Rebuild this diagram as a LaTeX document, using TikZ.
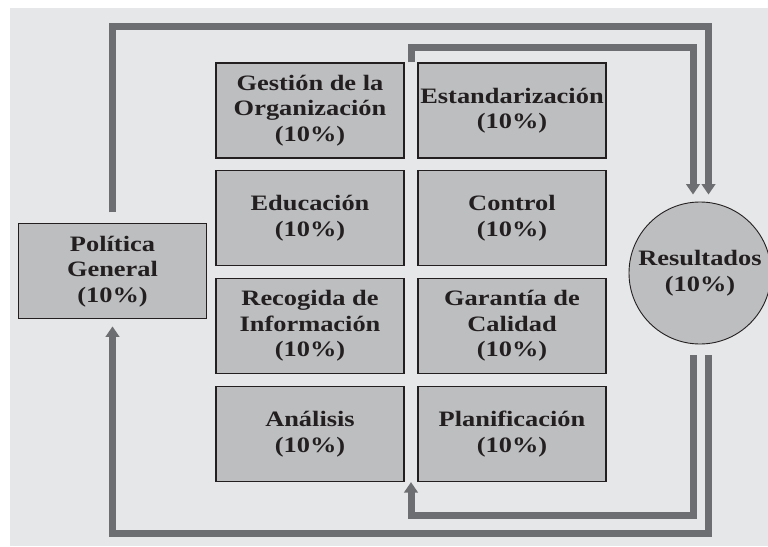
\documentclass[tikz,border=0pt]{standalone}
\usepackage{fontspec}
\newfontfamily\garfont[FakeStretch=1.2]{Liberation Serif}
\usetikzlibrary{arrows.meta,calc}
\definecolor{bgcol}{HTML}{E6E7E8}
\definecolor{boxfill}{HTML}{BCBEC0}
\definecolor{flowgray}{HTML}{6D6E71}
\definecolor{edgecol}{HTML}{231F20}
\definecolor{textcol}{HTML}{231F20}
\begin{document}
\begin{tikzpicture}[x=1pt,y=-1pt,
  area/.style={draw=edgecol,line width=1.2pt,fill=boxfill,minimum width=188pt,minimum height=95pt,inner sep=0pt,align=center,text=textcol,font=\garfont\fontsize{22}{25.5}\selectfont\bfseries},
  result/.style={area,circle,minimum size=142pt,line width=0.9pt},
  flow/.style={draw=flowgray,line width=7pt,line join=miter,line cap=butt},
  tipflow/.style={flow,-{Triangle[length=10.5pt,width=13.5pt]}}]
\clip (0,0) rectangle (768,546);
\fill[white] (0,0) rectangle (768,546);
\fill[bgcol] (10,8) rectangle (768,546);

\node[area] (g)  at (310,110.5) {Gestión de la\\Organización\\(10\%)};
\node[area] (e)  at (512,110.5) {Estandarización\\(10\%)};
\node[area] (ed) at (310,218.3) {Educación\\(10\%)};
\node[area] (c)  at (512,218.3) {Control\\(10\%)};
\node[area] (r)  at (310,326) {Recogida de\\Información\\(10\%)};
\node[area] (ga) at (512,326) {Garantía de\\Calidad\\(10\%)};
\node[area] (an) at (310,434) {Análisis\\(10\%)};
\node[area] (pl) at (512,434) {Planificación\\(10\%)};
\node[area] (pol) at (112.5,271.3) {Política\\General\\(10\%)};
\node[result] (res) at (700,273) {Resultados\\(10\%)};

\coordinate (oTR) at (708.5,26.7);
\coordinate (iTR) at (693,47);
\coordinate (oBR) at (708.5,533);
\coordinate (iBR) at (693,515);

% outer top loop
\draw[tipflow] ([yshift=10.8pt]pol.north) |- (oTR) -- ([xshift=8.5pt,yshift=7pt]res.north);
% inner top loop
\draw[tipflow] ($(g.north east)!0.5!(e.north west)$) |- (iTR) -- ([xshift=-7pt,yshift=7pt]res.north);
% inner bottom loop
\draw[tipflow] ([xshift=-7pt,yshift=-11pt]res.south) -- (iBR) -| ($(an.south east)!0.5!(pl.south west)$);
% outer bottom loop
\draw[tipflow] ([xshift=8.5pt,yshift=-11pt]res.south) -- (oBR) -| ([yshift=-7pt]pol.south);
\end{tikzpicture}
\end{document}
